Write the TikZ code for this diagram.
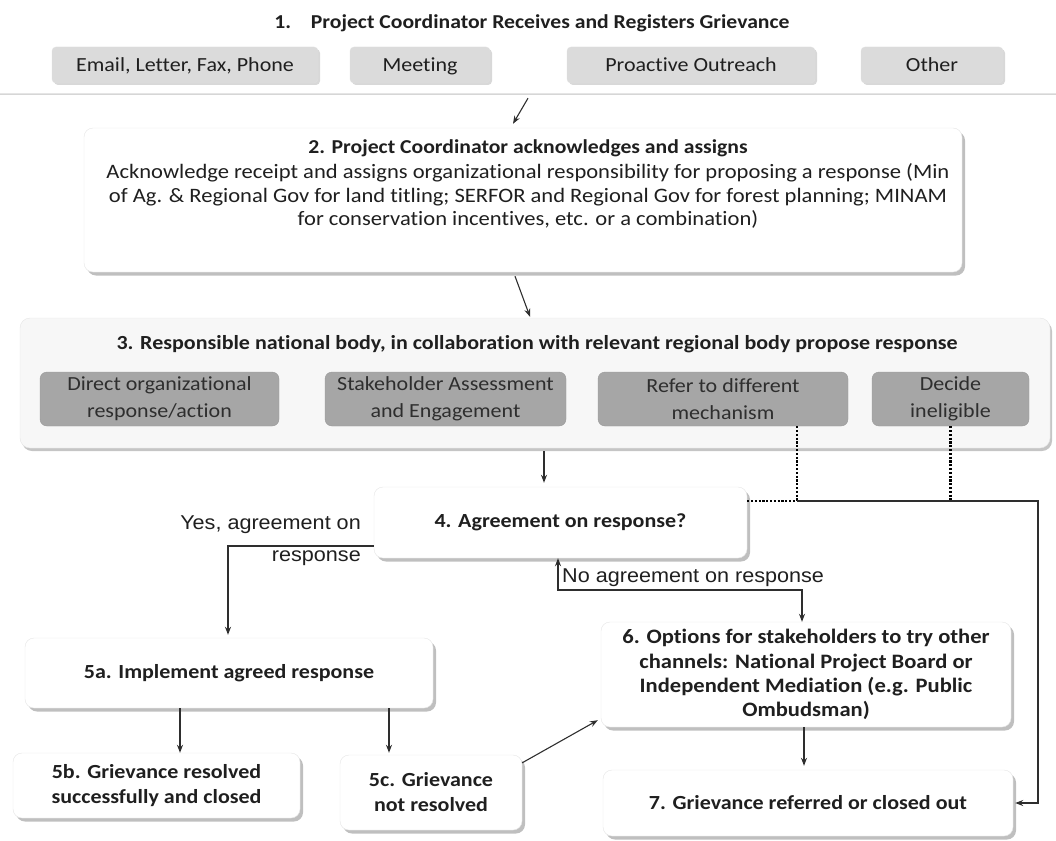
\documentclass[tikz,border=0pt]{standalone}
\usepackage{fontspec}
\setmainfont{Carlito}[FakeStretch=1.1,Ligatures=NoCommon]
\newfontfamily\arialf{Liberation Sans}[FakeStretch=1.08]
\usetikzlibrary{shadows,arrows.meta,calc}
\begin{document}
\begin{tikzpicture}[x=1pt,y=-1pt,
  every node/.style={text=black!88},
  cont/.style={draw=black!10, fill=white, inner sep=0pt,
    drop shadow={shadow xshift=1pt, shadow yshift=-2.5pt, fill=black!40, opacity=0.4}},
  cont3/.style={draw=black!10, fill=black!3, rounded corners=10pt, inner sep=0pt,
    drop shadow={shadow xshift=2pt, shadow yshift=-3pt, fill=black!45, opacity=0.5}},
  wbox/.style={draw=black!10, fill=white, rounded corners=9pt, inner sep=0pt, align=center,
    font=\bfseries\fontsize{20}{25}\selectfont,
    drop shadow={shadow xshift=3pt, shadow yshift=-3.5pt, fill=black!50, opacity=0.5}},
  srcbox/.style={draw=black!12, fill=black!14, rounded corners=4pt, inner sep=0pt,
    minimum height=36pt, text height=15pt, text depth=2pt, font=\fontsize{20}{25}\selectfont,
    drop shadow={shadow xshift=2pt, shadow yshift=-2pt, fill=black!30, opacity=0.5}},
  dbox/.style={draw=black!40, fill=black!35, rounded corners=7pt, inner sep=0pt, align=center,
    minimum height=54pt, font=\fontsize{20}{27}\selectfont, text=black!82},
  arr/.style={draw=black!82, line width=1.1pt, -{Stealth[length=8pt,width=6pt]}},
  biarr/.style={draw=black!82, line width=1.1pt, {Stealth[length=8pt,width=6pt]}-{Stealth[length=8pt,width=6pt]}},
  ln/.style={draw=black!82, line width=1.1pt},
  dotln/.style={draw=black, line width=2.2pt, dash pattern=on 2.2pt off 1.6pt},
  lbl/.style={font=\arialf\fontsize{20}{32}\selectfont, inner sep=0pt}
]
\useasboundingbox (0,0) rectangle (1056,840);

% ---- step 1
\node[cont, minimum width=1090pt, minimum height=104pt] (g1) at (528,41) {};
\node[font=\bfseries\fontsize{19.7}{24}\selectfont] (t1) at (532,23)
  {1.\quad Project Coordinator Receives and Registers Grievance};
\node[srcbox, minimum width=266pt] (s1) at (185,65) {Email, Letter, Fax, Phone};
\node[srcbox, minimum width=140pt] (s2) at (420,65) {Meeting};
\node[srcbox, minimum width=248pt] (s3) at (691,65) {Proactive Outreach};
\node[srcbox, minimum width=142pt] (s4) at (932,65) {Other};

% ---- step 2
\node[wbox, minimum width=878pt, minimum height=144pt] (b2) at (523,200) {};
\node[align=center, font=\fontsize{20.5}{23.5}\selectfont] (b2t) at (528,184)
  {\textbf{\fontsize{19.7}{23.5}\selectfont 2. Project Coordinator acknowledges and assigns}\\[2pt]
   Acknowledge receipt and assigns organizational responsibility for proposing a response (Min\\
   of Ag. \& Regional Gov for land titling; SERFOR and Regional Gov for forest planning; MINAM\\
   for conservation incentives, etc. or a combination)};

% ---- step 3
\node[cont3, minimum width=1030pt, minimum height=130pt] (b3) at (535,383) {};
\node[font=\bfseries\fontsize{20}{24}\selectfont] (t3) at (537,344)
  {3. Responsible national body, in collaboration with relevant regional body propose response};
\node[dbox, minimum width=239pt] (d1) at (159.5,399) {Direct organizational\\response/action};
\node[dbox, minimum width=241pt] (d2) at (445.5,399) {Stakeholder Assessment\\and Engagement};
\node[dbox, minimum width=250pt] (d3) at (723,399) {Refer to different\\mechanism};
\node[dbox, minimum width=157pt] (d4) at (950.5,399) {Decide\\ineligible};

% ---- step 4 and later
\node[wbox, minimum width=373pt, minimum height=71pt] (b4) at (560.5,522.5) {4. Agreement on response?};
\node[wbox, minimum width=408pt, minimum height=70pt] (b5a) at (229,673) {5a. Implement agreed response};
\node[wbox, minimum width=287pt, minimum height=65pt] (b5b) at (156.5,785.5) {5b. Grievance resolved\\successfully and closed};
\node[wbox, minimum width=182pt, minimum height=75pt] (b5c) at (431,792.5) {5c. Grievance\\not resolved};
\node[wbox, minimum width=410pt, minimum height=105pt, font=\bfseries\fontsize{20.5}{24.3}\selectfont] (b6) at (806,674.5)
  {6. Options for stakeholders to try other\\channels: National Project Board or\\Independent Mediation (e.g. Public\\Ombudsman)};
\node[wbox, minimum width=410pt, minimum height=66pt] (b7) at (808,803) {7. Grievance referred or closed out};

% labels
\node[lbl, anchor=east, align=right] (ly) at (361,541) {Yes, agreement on\\response};
\node[lbl, anchor=west] (ln) at (562,578) {No agreement on response};

% helper coordinates
\coordinate (x544) at (544,0);
\coordinate (x180) at (180,0);
\coordinate (x389) at (389,0);
\coordinate (x804) at (804,0);
\coordinate (yc) at (228,546);
\coordinate (n1) at (558,590);
\coordinate (n2) at (802,590);
\coordinate (j1) at (797,501);
\coordinate (j2) at (1038,501);

% connectors
\draw[arr] ([yshift=-5pt]g1.south) -- ([xshift=-10pt,yshift=4pt]b2.north);
\draw[arr] ([xshift=-8pt,yshift=-4pt]b2.south) -- ([xshift=-5pt,yshift=1pt]b3.north);
\draw[arr] ([yshift=-3pt]b3.south -| x544) -- ([yshift=4pt]b4.north -| x544);
\draw[arr] (b4.west |- yc) -- (yc) -- ([yshift=3pt]yc |- b5a.north);
\draw[biarr] (b4.south -| n1) -- (n1) -- (n2) -- (n2 |- b6.north);
\draw[dotln] (d3.south -| j1) -- (j1);
\draw[dotln] (b4.east |- j1) -- (j1);
\draw[dotln] (d4.south) -- (d4.south |- j1);
\draw[arr] (j1) -- (j2) -- (j2 |- b7.east) -- ([xshift=2pt]b7.east);
\draw[arr] (b5a.south -| x180) -- (b5b.north -| x180);
\draw[arr] (b5a.south -| x389) -- ([yshift=2pt]b5c.north -| x389);
\draw[arr] ([yshift=-8pt]b5c.north east) -- ([xshift=-3pt,yshift=7pt]b6.south west);
\draw[arr] (b6.south -| x804) -- ([yshift=4pt]b7.north -| x804);
\end{tikzpicture}
\end{document}
